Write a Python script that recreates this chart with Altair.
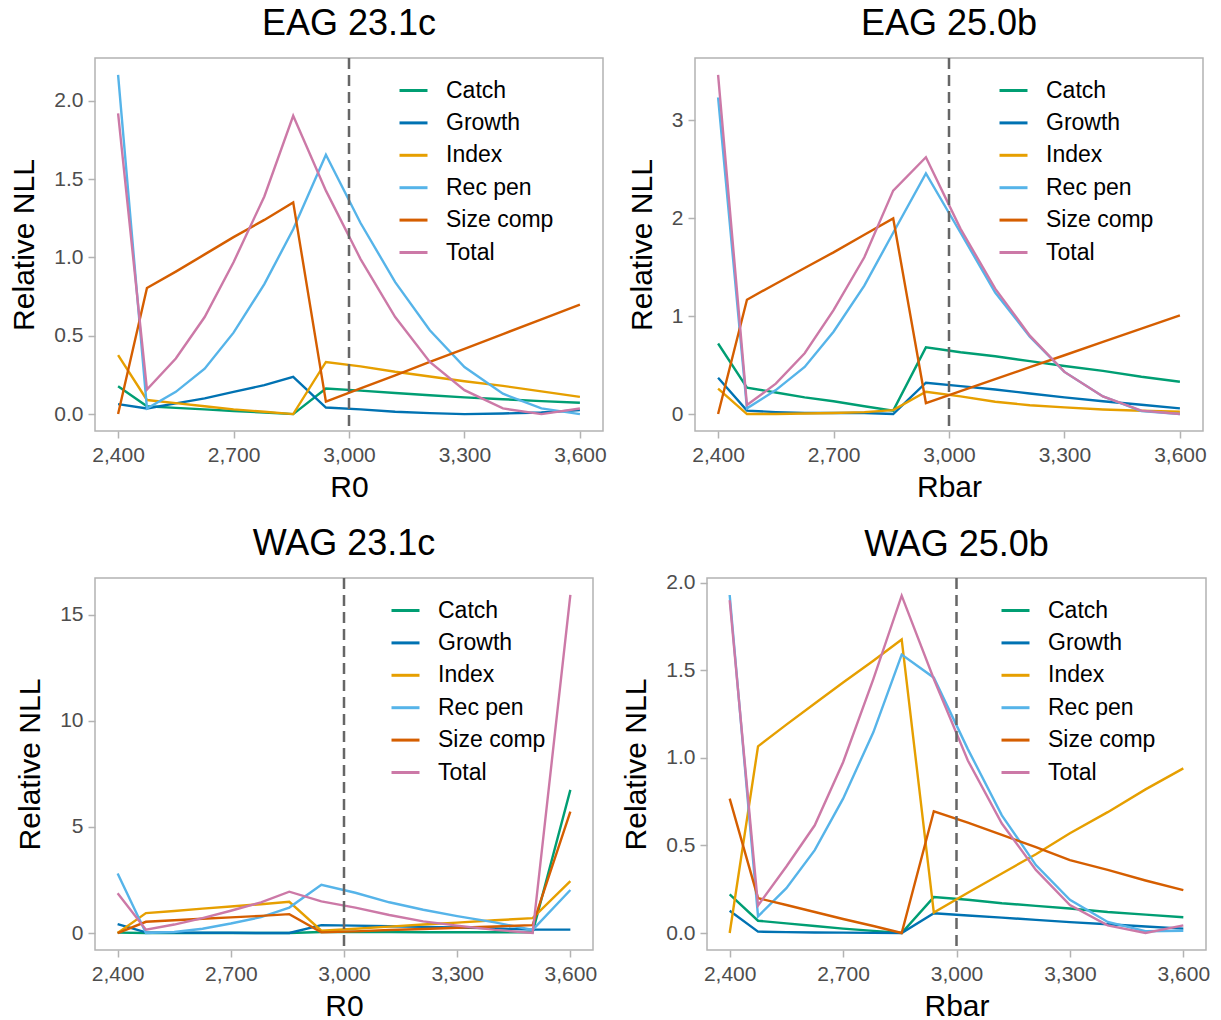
import altair as alt
import pandas as pd

# ---------------- data ----------------
X = [2400, 2475, 2550, 2625, 2700, 2780, 2855, 2940, 3030, 3120, 3210, 3300, 3400, 3500, 3600]
COMPONENTS = ["Catch", "Growth", "Index", "Rec pen", "Size comp", "Total"]
COLORS = ["#009E73", "#0072B2", "#E69F00", "#56B4E9", "#D55E00", "#CC79A7"]
X_TICKS = [2400, 2700, 3000, 3300, 3600]
REF_X = [3000]

# EAG 23.1c
eag231_catch = [0.178, 0.05, 0.04, 0.03, 0.02, 0.01, 0.0, 0.163, 0.15, 0.135, 0.12, 0.107, 0.095, 0.083, 0.072]
eag231_growth = [0.064, 0.036, 0.068, 0.10, 0.142, 0.185, 0.238, 0.042, 0.03, 0.015, 0.006, 0.0, 0.004, 0.01, 0.025]
eag231_index = [0.376, 0.09, 0.07, 0.05, 0.03, 0.015, 0.0, 0.333, 0.305, 0.27, 0.24, 0.21, 0.18, 0.145, 0.11]
eag231_recpen = [2.166, 0.036, 0.142, 0.29, 0.52, 0.83, 1.18, 1.656, 1.22, 0.843, 0.535, 0.30, 0.13, 0.036, 0.0]
eag231_sizecomp = [0.0, 0.805, 0.91, 1.02, 1.13, 1.24, 1.352, 0.079, 0.164, 0.248, 0.333, 0.417, 0.511, 0.605, 0.699]
eag231_total = [1.92, 0.157, 0.355, 0.62, 0.97, 1.39, 1.905, 1.427, 0.99, 0.62, 0.333, 0.153, 0.036, 0.0, 0.036]

# EAG 25.0b
eag250_catch = [0.72, 0.27, 0.22, 0.17, 0.13, 0.08, 0.035, 0.68, 0.63, 0.59, 0.54, 0.49, 0.44, 0.38, 0.33]
eag250_growth = [0.37, 0.035, 0.02, 0.01, 0.01, 0.01, 0.0, 0.32, 0.285, 0.25, 0.21, 0.17, 0.13, 0.095, 0.058]
eag250_index = [0.26, 0.0, 0.0, 0.005, 0.01, 0.02, 0.04, 0.227, 0.18, 0.125, 0.09, 0.068, 0.047, 0.034, 0.024]
eag250_recpen = [3.23, 0.058, 0.244, 0.48, 0.84, 1.31, 1.85, 2.455, 1.85, 1.24, 0.79, 0.43, 0.18, 0.03, 0.0]
eag250_sizecomp = [0.0, 1.167, 1.33, 1.49, 1.65, 1.83, 1.997, 0.112, 0.234, 0.356, 0.478, 0.6, 0.736, 0.871, 1.007]
eag250_total = [3.46, 0.092, 0.31, 0.62, 1.06, 1.60, 2.28, 2.62, 1.89, 1.28, 0.80, 0.43, 0.18, 0.035, 0.0]

# WAG 23.1c
wag231_catch = [0.02, 0.0, 0.0, 0.0, 0.0, 0.0, 0.0, 0.05, 0.05, 0.05, 0.04, 0.04, 0.04, 0.03, 6.75]
wag231_growth = [0.42, 0.03, 0.02, 0.01, 0.01, 0.0, 0.0, 0.375, 0.35, 0.32, 0.29, 0.26, 0.22, 0.16, 0.16]
wag231_index = [0.0, 0.94, 1.04, 1.15, 1.25, 1.36, 1.47, 0.11, 0.205, 0.30, 0.40, 0.49, 0.60, 0.70, 2.45]
wag231_recpen = [2.81, 0.0, 0.05, 0.2, 0.45, 0.75, 1.2, 2.27, 1.9, 1.45, 1.1, 0.8, 0.5, 0.15, 2.03]
wag231_sizecomp = [0.0, 0.53, 0.6, 0.67, 0.74, 0.81, 0.89, 0.03, 0.08, 0.14, 0.19, 0.25, 0.31, 0.375, 5.73]
wag231_total = [1.875, 0.16, 0.4, 0.7, 1.05, 1.45, 1.95, 1.49, 1.2, 0.85, 0.55, 0.35, 0.15, 0.0, 15.94]

# WAG 25.0b
wag250_catch = [0.22, 0.07, 0.055, 0.04, 0.025, 0.012, 0.0, 0.205, 0.19, 0.17, 0.155, 0.14, 0.12, 0.105, 0.09]
wag250_growth = [0.127, 0.008, 0.005, 0.003, 0.002, 0.001, 0.0, 0.113, 0.10, 0.088, 0.075, 0.062, 0.05, 0.037, 0.025]
wag250_index = [0.0, 1.066, 1.19, 1.31, 1.43, 1.555, 1.676, 0.117, 0.23, 0.34, 0.45, 0.57, 0.69, 0.82, 0.94]
wag250_recpen = [1.93, 0.095, 0.256, 0.473, 0.767, 1.146, 1.59, 1.458, 1.05, 0.672, 0.388, 0.19, 0.063, 0.01, 0.013]
wag250_sizecomp = [0.767, 0.199, 0.16, 0.12, 0.08, 0.04, 0.0, 0.695, 0.63, 0.56, 0.49, 0.416, 0.36, 0.30, 0.245]
wag250_total = [1.90, 0.157, 0.38, 0.615, 0.975, 1.45, 1.926, 1.45, 0.985, 0.625, 0.36, 0.16, 0.044, 0.0, 0.044]

FONT = "Liberation Sans"


def make_panel(title, xlabel, series, ydomain, yticks, yfmt, width, height, legend_x, title_offset):
    rows = []
    for comp, vals in zip(COMPONENTS, series):
        for xv, v in zip(X, vals):
            rows.append({"x": xv, "comp": comp, "v": v})
    df = pd.DataFrame(rows)

    xenc = alt.X(
        "x:Q",
        scale=alt.Scale(domain=[2340, 3660], nice=False, zero=False),
        axis=alt.Axis(values=X_TICKS, format=",.0f", title=xlabel),
    )
    lines = alt.Chart(df).mark_line(strokeWidth=2.4).encode(
        x=xenc,
        y=alt.Y(
            "v:Q",
            scale=alt.Scale(domain=ydomain, nice=False, zero=False),
            axis=alt.Axis(values=yticks, format=yfmt, title="Relative NLL"),
        ),
        color=alt.Color(
            "comp:N",
            scale=alt.Scale(domain=COMPONENTS, range=COLORS),
            legend=alt.Legend(
                title=None, orient="none", legendX=legend_x, legendY=17,
                symbolType="stroke", symbolSize=784, symbolStrokeWidth=3,
                labelFontSize=23, labelFont=FONT, labelColor="black",
                labelOffset=17, rowPadding=4.4,
            ),
        ),
    )
    vline = alt.Chart(pd.DataFrame({"x": REF_X})).mark_rule(
        strokeDash=[11, 6], color="#666666", strokeWidth=2.5
    ).encode(x=xenc)
    return alt.layer(lines, vline).properties(
        width=width, height=height,
        title=alt.TitleParams(title, frame="group", anchor="middle", fontSize=36,
                              fontWeight="normal", font=FONT, color="black",
                              offset=title_offset),
    )


p1 = make_panel("EAG 23.1c", "R0",
                [eag231_catch, eag231_growth, eag231_index, eag231_recpen, eag231_sizecomp, eag231_total],
                [-0.108, 2.274], [0.0, 0.5, 1.0, 1.5, 2.0], ".1f", 508, 373, 303, 14)
p2 = make_panel("EAG 25.0b", "Rbar",
                [eag250_catch, eag250_growth, eag250_index, eag250_recpen, eag250_sizecomp, eag250_total],
                [-0.173, 3.633], [0, 1, 2, 3], "d", 508, 373, 303, 14)
p3 = make_panel("WAG 23.1c", "R0",
                [wag231_catch, wag231_growth, wag231_index, wag231_recpen, wag231_sizecomp, wag231_total],
                [-0.8, 16.74], [0, 5, 10, 15], "d", 498, 372, 295, 14)
p4 = make_panel("WAG 25.0b", "Rbar",
                [wag250_catch, wag250_growth, wag250_index, wag250_recpen, wag250_sizecomp, wag250_total],
                [-0.097, 2.027], [0.0, 0.5, 1.0, 1.5, 2.0], ".1f", 499, 372, 293, 8)

row1 = alt.hconcat(p1, p2, spacing=19).resolve_scale(color="independent").resolve_legend(color="independent")
row2 = alt.hconcat(p3, p4, spacing=23).resolve_scale(color="independent").resolve_legend(color="independent")

chart = alt.vconcat(row1, row2, spacing=22).resolve_scale(
    color="independent"
).resolve_legend(
    color="independent"
).properties(
    padding={"left": 9, "top": 5, "right": 5, "bottom": 5}
).configure_view(
    stroke="#B3B3B3", strokeWidth=1.5
).configure_axis(
    grid=False, domain=False,
    labelFont=FONT, labelFontSize=21, labelColor="#4D4D4D",
    titleFont=FONT, titleFontSize=30, titleFontWeight="normal", titleColor="black",
    tickColor="#B3B3B3", tickSize=7, tickWidth=1.5, labelPadding=6, titlePadding=7,
).configure_axisY(
    titlePadding=14, labelPadding=5
).configure_legend(
    labelFont=FONT
)

chart.save("out.html", embed_options={"renderer": "svg", "actions": False})
